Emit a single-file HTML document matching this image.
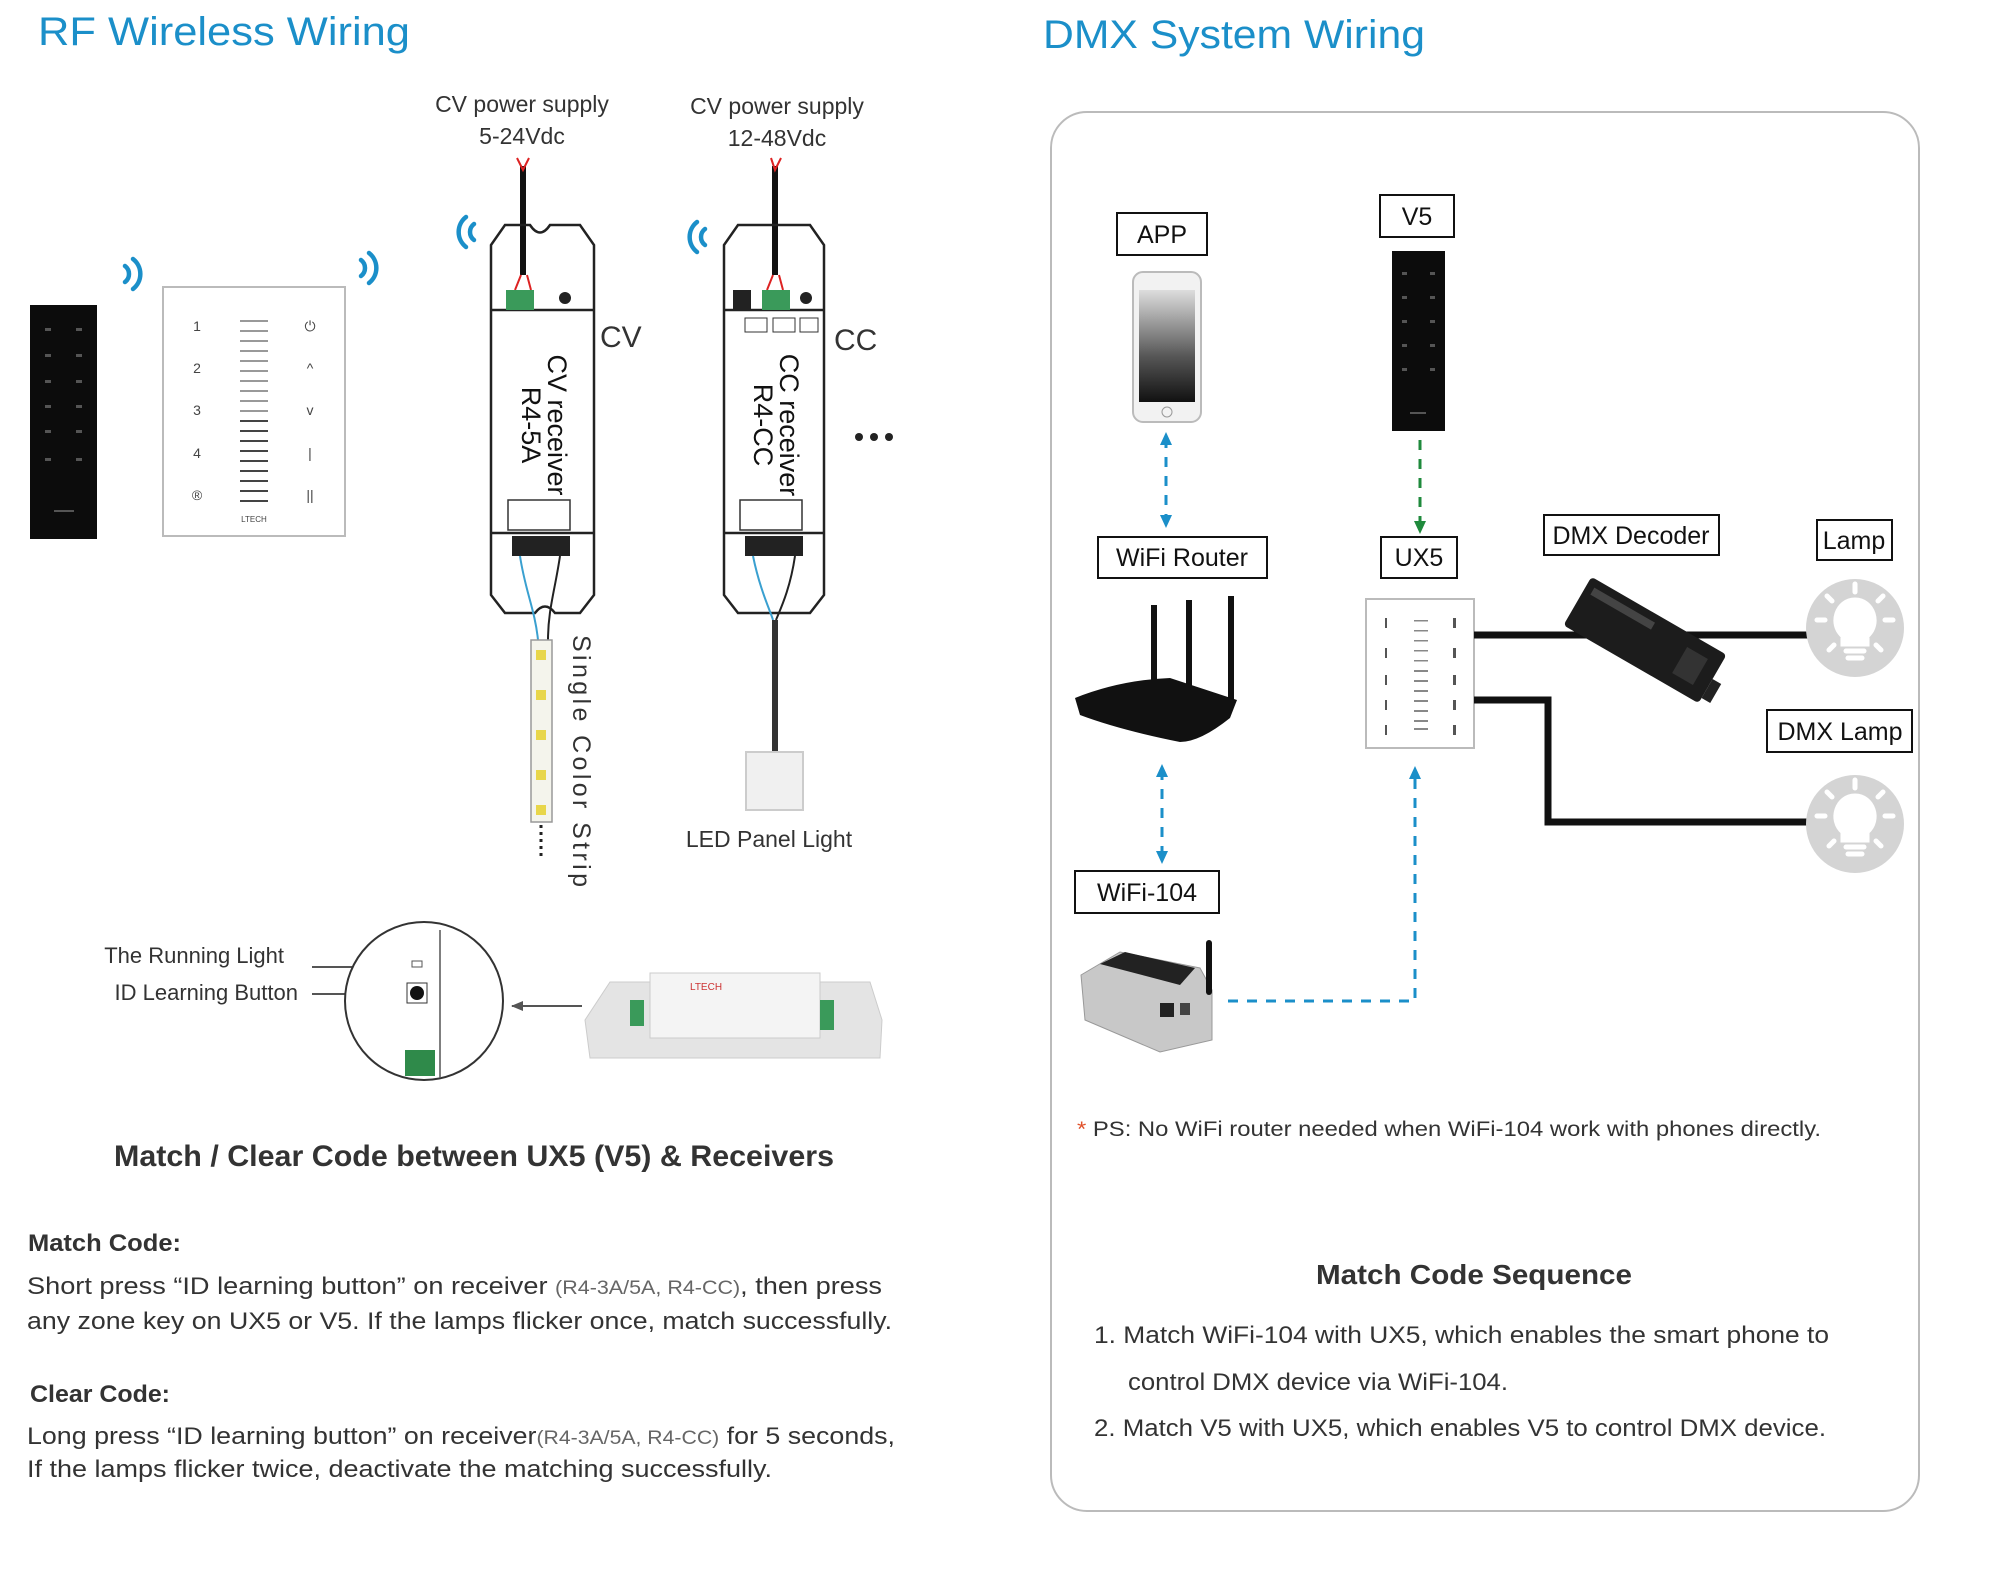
<!DOCTYPE html>
<html><head><meta charset="utf-8"><style>
html,body{margin:0;padding:0;background:#fff}
svg{display:block}
text{font-family:"Liberation Sans",sans-serif}
</style></head><body>
<svg width="2000" height="1572" viewBox="0 0 2000 1572" xmlns="http://www.w3.org/2000/svg">
<defs>
<marker id="ab" markerUnits="userSpaceOnUse" markerWidth="14" markerHeight="14" refX="7" refY="7" orient="auto-start-reverse"><path d="M0,1 L13,7 L0,13 Z" fill="#1b8fc9"/></marker>
<marker id="ag" markerUnits="userSpaceOnUse" markerWidth="14" markerHeight="14" refX="7" refY="7" orient="auto"><path d="M0,1 L13,7 L0,13 Z" fill="#1f8a3c"/></marker>
<marker id="ak" markerUnits="userSpaceOnUse" markerWidth="12" markerHeight="12" refX="11" refY="6" orient="auto"><path d="M0,1 L12,6 L0,11 Z" fill="#555"/></marker>
<g id="wifi" fill="none" stroke="#1b8fc9" stroke-width="4.5" stroke-linecap="round"><path d="M-4,-8 A10,10 0 0 0 -4,8"/><path d="M-12,-15 A19,19 0 0 0 -12,15"/></g>
<g id="bulb"><circle r="49" fill="#d4d4d4"/><g fill="none" stroke="#fff" stroke-width="5" stroke-linecap="round"><path d="M-12,8 C-26,-4 -18,-28 0,-28 C18,-28 26,-4 12,8 L12,16 L-12,16 Z" fill="#fff"/><line x1="-9" y1="23" x2="9" y2="23"/><line x1="-7" y1="30" x2="7" y2="30"/><line x1="0" y1="-44" x2="0" y2="-36"/><line x1="-38" y1="-8" x2="-30" y2="-8"/><line x1="30" y1="-8" x2="38" y2="-8"/><line x1="-28" y1="-32" x2="-23" y2="-27"/><line x1="28" y1="-32" x2="23" y2="-27"/><line x1="-26" y1="22" x2="-21" y2="17"/><line x1="26" y1="22" x2="21" y2="17"/></g></g>
</defs>

<text x="38" y="45" font-size="40" fill="#1b8fc9" textLength="372" lengthAdjust="spacingAndGlyphs">RF Wireless Wiring</text>
<text x="1043" y="48" font-size="40" fill="#1b8fc9" textLength="382" lengthAdjust="spacingAndGlyphs">DMX System Wiring</text>

<rect x="30" y="305" width="67" height="234" fill="#0c0c0c"/>
<g fill="#555"><rect x="45" y="328" width="6" height="3"/><rect x="76" y="328" width="6" height="3"/><rect x="45" y="354" width="6" height="3"/><rect x="76" y="354" width="6" height="3"/><rect x="45" y="380" width="6" height="3"/><rect x="76" y="380" width="6" height="3"/><rect x="45" y="405" width="6" height="3"/><rect x="76" y="405" width="6" height="3"/><rect x="45" y="430" width="6" height="3"/><rect x="76" y="430" width="6" height="3"/><rect x="45" y="458" width="6" height="3"/><rect x="76" y="458" width="6" height="3"/><rect x="54" y="510" width="20" height="2"/></g>
<rect x="163" y="287" width="182" height="249" fill="#fff" stroke="#bbb" stroke-width="2"/>
<g fill="#999">
<rect x="240" y="320" width="28" height="2"/><rect x="240" y="330" width="28" height="2"/><rect x="240" y="340" width="28" height="2"/><rect x="240" y="350" width="28" height="2"/><rect x="240" y="360" width="28" height="2"/><rect x="240" y="370" width="28" height="2"/><rect x="240" y="380" width="28" height="2"/><rect x="240" y="390" width="28" height="2"/><rect x="240" y="400" width="28" height="2"/><rect x="240" y="410" width="28" height="2"/></g>
<g fill="#444"><rect x="240" y="420" width="28" height="2"/><rect x="240" y="430" width="28" height="2"/><rect x="240" y="440" width="28" height="2"/><rect x="240" y="450" width="28" height="2"/><rect x="240" y="460" width="28" height="2"/><rect x="240" y="470" width="28" height="2"/><rect x="240" y="480" width="28" height="2"/><rect x="240" y="490" width="28" height="2"/><rect x="240" y="500" width="28" height="2"/></g>
<g font-size="14" fill="#444" text-anchor="middle"><text x="197" y="331">1</text><text x="197" y="373">2</text><text x="197" y="415">3</text><text x="197" y="458">4</text><text x="197" y="500">®</text><text x="310" y="331">⏻</text><text x="310" y="373">^</text><text x="310" y="415">v</text><text x="310" y="458">|</text><text x="310" y="500">||</text><text x="254" y="522" font-size="8">LTECH</text></g>
<use href="#wifi" transform="translate(121,274) scale(-1,1)"/>
<use href="#wifi" transform="translate(357,268) scale(-1,1)"/>
<use href="#wifi" transform="translate(478,232)"/>
<use href="#wifi" transform="translate(709,237)"/>

<g font-size="23" fill="#333" text-anchor="middle"><text x="522" y="112">CV power supply</text><text x="522" y="144">5-24Vdc</text><text x="777" y="114">CV power supply</text><text x="777" y="146">12-48Vdc</text></g>
<line x1="523" y1="166" x2="523" y2="275" stroke="#111" stroke-width="6"/>
<line x1="775" y1="166" x2="775" y2="275" stroke="#111" stroke-width="6"/>
<path d="M517,158 L523,170 L529,158" fill="none" stroke="#d22" stroke-width="2"/>
<path d="M771,158 L775,170 L781,158" fill="none" stroke="#d22" stroke-width="2"/>
<path d="M521,275 L515,290 M527,275 L531,290" stroke="#d22" stroke-width="2"/>
<path d="M773,275 L767,290 M779,275 L783,290" stroke="#d22" stroke-width="2"/>

<g fill="none" stroke="#222" stroke-width="2.5">
<path d="M505,225 L530,225 Q540,240 550,225 L580,225 L594,245 L594,595 L580,613 L555,613 Q545,600 535,613 L505,613 L491,595 L491,245 Z"/>
<line x1="491" y1="310" x2="594" y2="310"/><line x1="491" y1="533" x2="594" y2="533"/>
<path d="M738,225 L810,225 L824,245 L824,595 L810,613 L738,613 L724,595 L724,245 Z"/>
<line x1="724" y1="310" x2="824" y2="310"/><line x1="724" y1="533" x2="824" y2="533"/>
</g>
<rect x="506" y="290" width="28" height="20" fill="#3a9a5a"/><circle cx="565" cy="298" r="6" fill="#222"/>
<rect x="762" y="290" width="28" height="20" fill="#3a9a5a"/><circle cx="806" cy="298" r="6" fill="#222"/><rect x="733" y="290" width="18" height="20" fill="#222"/>
<rect x="508" y="500" width="62" height="30" fill="none" stroke="#333" stroke-width="1.5"/><rect x="740" y="500" width="62" height="30" fill="none" stroke="#333" stroke-width="1.5"/>
<rect x="512" y="536" width="58" height="20" fill="#222"/><rect x="745" y="536" width="58" height="20" fill="#222"/>
<rect x="745" y="318" width="22" height="14" fill="none" stroke="#333"/><rect x="773" y="318" width="22" height="14" fill="none" stroke="#333"/><rect x="800" y="318" width="18" height="14" fill="none" stroke="#333"/>
<path d="M520,556 C525,590 535,610 538,640" fill="none" stroke="#3aa0d0" stroke-width="2"/>
<path d="M560,556 C555,590 548,610 548,640" fill="none" stroke="#222" stroke-width="2"/>
<path d="M753,556 C760,590 770,610 773,620" fill="none" stroke="#3aa0d0" stroke-width="2"/>
<path d="M795,556 C790,590 780,610 776,620" fill="none" stroke="#222" stroke-width="2"/>
<g font-size="27" fill="#111" text-anchor="middle">
<text transform="translate(548,425) rotate(90)">CV receiver</text>
<text transform="translate(522,425) rotate(90)">R4-5A</text>
<text transform="translate(780,425) rotate(90)">CC receiver</text>
<text transform="translate(754,425) rotate(90)">R4-CC</text>
</g>
<text x="600" y="347" font-size="30" fill="#333">CV</text>
<text x="834" y="350" font-size="30" fill="#333">CC</text>
<g fill="#222"><circle cx="859" cy="437" r="4"/><circle cx="874" cy="437" r="4"/><circle cx="889" cy="437" r="4"/></g>

<rect x="531" y="640" width="21" height="182" fill="#f4f4ec" stroke="#999" stroke-width="1.5"/>
<g fill="#e8d64a"><rect x="536" y="650" width="10" height="10"/><rect x="536" y="690" width="10" height="10"/><rect x="536" y="730" width="10" height="10"/><rect x="536" y="770" width="10" height="10"/><rect x="536" y="805" width="10" height="10"/></g>
<line x1="541" y1="825" x2="541" y2="856" stroke="#222" stroke-width="3" stroke-dasharray="3,4"/>
<text transform="translate(573,635) rotate(90)" font-size="25" fill="#333" textLength="252" lengthAdjust="spacing">Single Color Strip</text>
<line x1="775" y1="620" x2="775" y2="752" stroke="#333" stroke-width="6"/>
<rect x="746" y="752" width="57" height="58" fill="#f0f0f0" stroke="#ccc" stroke-width="2"/>
<text x="769" y="847" font-size="23" fill="#333" text-anchor="middle">LED Panel Light</text>

<g font-size="22" fill="#333" text-anchor="end"><text x="284" y="963">The Running Light</text><text x="298" y="1000">ID Learning Button</text></g>
<line x1="312" y1="967" x2="388" y2="967" stroke="#555" stroke-width="2" marker-end="url(#ak)"/>
<line x1="312" y1="994" x2="388" y2="994" stroke="#555" stroke-width="2" marker-end="url(#ak)"/>
<circle cx="424" cy="1001" r="79" fill="#fff" stroke="#333" stroke-width="2"/>
<line x1="440" y1="930" x2="440" y2="1078" stroke="#555" stroke-width="1.5"/>
<rect x="412" y="961" width="10" height="6" fill="none" stroke="#555"/>
<rect x="407" y="983" width="20" height="20" fill="#fff" stroke="#333"/><circle cx="417" cy="993" r="7" fill="#111"/>
<rect x="405" y="1050" width="30" height="26" fill="#2f8a4a"/>
<line x1="582" y1="1006" x2="512" y2="1006" stroke="#555" stroke-width="2" marker-end="url(#ak)"/>
<path d="M585,1020 L610,982 L870,982 L882,1020 L880,1058 L590,1058 Z" fill="#e4e4e4" stroke="#ccc"/>
<rect x="650" y="973" width="170" height="65" fill="#f4f4f4" stroke="#ccc"/>
<rect x="630" y="1000" width="14" height="26" fill="#3a9a5a"/><rect x="820" y="1000" width="14" height="30" fill="#3a9a5a"/>
<text x="690" y="990" font-size="10" fill="#c33">LTECH</text>

<text x="474" y="1166" font-size="30" font-weight="bold" fill="#333" text-anchor="middle" textLength="720" lengthAdjust="spacingAndGlyphs">Match / Clear Code between UX5 (V5) &amp; Receivers</text>
<g fill="#333" font-size="24">
<text x="28" y="1251" font-weight="bold" textLength="153" lengthAdjust="spacingAndGlyphs">Match Code:</text>
<text x="27" y="1294" textLength="855" lengthAdjust="spacingAndGlyphs">Short press “ID learning button” on receiver <tspan font-size="19" fill="#666">(R4-3A/5A, R4-CC)</tspan>, then press</text>
<text x="27" y="1329" textLength="865" lengthAdjust="spacingAndGlyphs">any zone key on UX5 or V5. If the lamps flicker once, match successfully.</text>
<text x="30" y="1402" font-weight="bold" textLength="140" lengthAdjust="spacingAndGlyphs">Clear Code:</text>
<text x="27" y="1444" textLength="868" lengthAdjust="spacingAndGlyphs">Long press “ID learning button” on receiver<tspan font-size="19" fill="#666">(R4-3A/5A, R4-CC)</tspan> for 5 seconds,</text>
<text x="27" y="1477" textLength="745" lengthAdjust="spacingAndGlyphs">If the lamps flicker twice, deactivate the matching successfully.</text>
</g>

<rect x="1051" y="112" width="868" height="1399" rx="36" fill="#fff" stroke="#bbb" stroke-width="2"/>
<g fill="#fff" stroke="#111" stroke-width="2">
<rect x="1117" y="213" width="90" height="42"/><rect x="1380" y="195" width="74" height="42"/>
<rect x="1098" y="537" width="169" height="41"/><rect x="1381" y="537" width="76" height="41"/>
<rect x="1544" y="515" width="175" height="40"/><rect x="1817" y="520" width="75" height="40"/>
<rect x="1767" y="710" width="145" height="42"/><rect x="1075" y="871" width="144" height="42"/>
</g>
<g font-size="25" fill="#111" text-anchor="middle">
<text x="1162" y="243">APP</text><text x="1417" y="225">V5</text><text x="1182" y="566">WiFi Router</text><text x="1419" y="566">UX5</text>
<text x="1631" y="544">DMX Decoder</text><text x="1854" y="549">Lamp</text><text x="1840" y="740">DMX Lamp</text><text x="1147" y="901">WiFi-104</text>
</g>
<rect x="1133" y="272" width="68" height="150" rx="10" fill="#f2f2f2" stroke="#bbb" stroke-width="2"/>
<defs><linearGradient id="ph" x1="0" y1="0" x2="0" y2="1"><stop offset="0" stop-color="#ddd"/><stop offset="0.6" stop-color="#555"/><stop offset="1" stop-color="#111"/></linearGradient></defs>
<rect x="1139" y="290" width="56" height="112" fill="url(#ph)"/><circle cx="1167" cy="412" r="5" fill="none" stroke="#999"/>
<rect x="1392" y="251" width="53" height="180" fill="#0c0c0c"/>
<g fill="#555"><rect x="1402" y="272" width="5" height="3"/><rect x="1430" y="272" width="5" height="3"/><rect x="1402" y="296" width="5" height="3"/><rect x="1430" y="296" width="5" height="3"/><rect x="1402" y="320" width="5" height="3"/><rect x="1430" y="320" width="5" height="3"/><rect x="1402" y="344" width="5" height="3"/><rect x="1430" y="344" width="5" height="3"/><rect x="1402" y="368" width="5" height="3"/><rect x="1430" y="368" width="5" height="3"/><rect x="1410" y="412" width="16" height="2"/></g>
<g fill="none" stroke-width="3" stroke-dasharray="10,9">
<line x1="1166" y1="438" x2="1166" y2="522" stroke="#1b8fc9" marker-start="url(#ab)" marker-end="url(#ab)"/>
<line x1="1420" y1="440" x2="1420" y2="528" stroke="#1f8a3c" marker-end="url(#ag)"/>
<line x1="1162" y1="770" x2="1162" y2="858" stroke="#1b8fc9" marker-start="url(#ab)" marker-end="url(#ab)"/>
<polyline points="1228,1001 1415,1001 1415,772" stroke="#1b8fc9" marker-end="url(#ab)"/>
</g>
<g fill="#111"><rect x="1151" y="605" width="6" height="95"/><rect x="1186" y="600" width="6" height="100"/><rect x="1228" y="596" width="6" height="108"/>
<path d="M1075,698 Q1120,680 1170,678 L1237,700 L1230,718 Q1200,742 1180,742 Q1120,730 1080,715 Z"/></g>
<rect x="1366" y="599" width="108" height="149" fill="#fff" stroke="#bbb" stroke-width="2"/>
<g fill="#888"><rect x="1414" y="620" width="14" height="1.5"/><rect x="1414" y="630" width="14" height="1.5"/><rect x="1414" y="640" width="14" height="1.5"/><rect x="1414" y="650" width="14" height="1.5"/><rect x="1414" y="660" width="14" height="1.5"/><rect x="1414" y="670" width="14" height="2"/><rect x="1414" y="680" width="14" height="2"/><rect x="1414" y="690" width="14" height="2"/><rect x="1414" y="700" width="14" height="2"/><rect x="1414" y="710" width="14" height="2"/><rect x="1414" y="720" width="14" height="2"/><rect x="1414" y="728" width="14" height="2"/></g>
<g fill="#555"><rect x="1385" y="618" width="2" height="10"/><rect x="1385" y="648" width="2" height="10"/><rect x="1385" y="675" width="2" height="10"/><rect x="1385" y="700" width="2" height="10"/><rect x="1385" y="725" width="2" height="10"/><rect x="1453" y="618" width="3" height="10"/><rect x="1453" y="648" width="3" height="10"/><rect x="1453" y="675" width="3" height="10"/><rect x="1453" y="700" width="3" height="10"/><rect x="1453" y="725" width="3" height="10"/></g>
<line x1="1474" y1="635" x2="1812" y2="635" stroke="#111" stroke-width="7"/>
<polyline points="1474,700 1548,700 1548,822 1812,822" fill="none" stroke="#111" stroke-width="7"/>
<g transform="translate(1645,640) rotate(30)"><rect x="-78" y="-28" width="156" height="56" rx="4" fill="#1c1c1c"/><rect x="-70" y="-20" width="70" height="8" fill="#444"/><rect x="40" y="-15" width="24" height="30" fill="#333"/><rect x="78" y="0" width="10" height="22" fill="#222"/></g>
<use href="#bulb" transform="translate(1855,628)"/>
<use href="#bulb" transform="translate(1855,824)"/>
<path d="M1081,975 L1120,952 L1200,968 L1212,990 L1212,1040 L1160,1052 L1085,1020 Z" fill="#c8c8c8" stroke="#999"/>
<path d="M1100,964 L1125,952 L1195,968 L1180,985 Z" fill="#222"/>
<rect x="1160" y="1003" width="14" height="14" fill="#222"/><rect x="1180" y="1003" width="10" height="12" fill="#444"/>
<rect x="1206" y="940" width="6" height="55" rx="3" fill="#111"/>

<text x="1077" y="1136" font-size="21" fill="#333" textLength="744" lengthAdjust="spacingAndGlyphs"><tspan fill="#e0512a">*</tspan> PS: No WiFi router needed when WiFi-104 work with phones directly.</text>
<text x="1474" y="1284" font-size="28" font-weight="bold" fill="#333" text-anchor="middle" textLength="316" lengthAdjust="spacingAndGlyphs">Match Code Sequence</text>
<g font-size="24" fill="#333">
<text x="1094" y="1343" textLength="735" lengthAdjust="spacingAndGlyphs">1. Match WiFi-104 with UX5, which enables the smart phone to</text>
<text x="1128" y="1390" textLength="380" lengthAdjust="spacingAndGlyphs">control DMX device via WiFi-104.</text>
<text x="1094" y="1436" textLength="732" lengthAdjust="spacingAndGlyphs">2. Match V5 with UX5, which enables V5 to control DMX device.</text>
</g>
</svg>
</body></html>
